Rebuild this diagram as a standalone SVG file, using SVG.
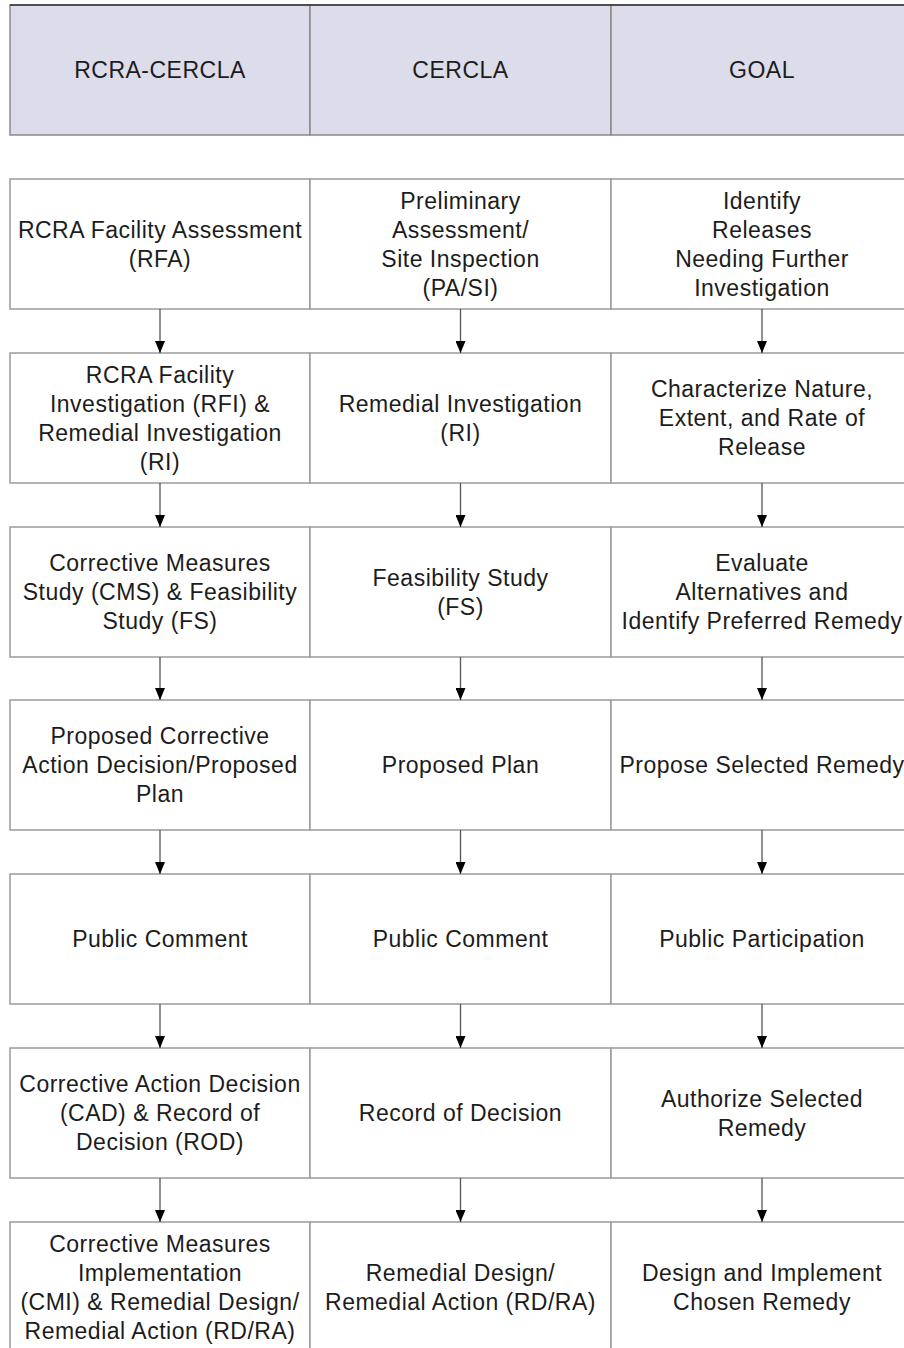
<svg xmlns="http://www.w3.org/2000/svg" width="904" height="1348" viewBox="0 0 904 1348">
<style>
.bg{fill:#ffffff}
.hdr{fill:#dcdcea;stroke:#8a8a8a;stroke-width:1.5}
.cell{fill:#ffffff;stroke:#9a9a9a;stroke-width:1.5}
.t{font-family:"Liberation Sans",Arial,sans-serif;font-size:23px;fill:#1c1c1c;text-anchor:middle;letter-spacing:0.5px}
.arr{stroke:#555555;stroke-width:1.3;fill:none}
.topline{stroke:#333333;stroke-width:1.5}
</style>
<defs>
<marker id="ah" viewBox="0 0 12 10" refX="12" refY="5" markerWidth="12" markerHeight="10" markerUnits="userSpaceOnUse" orient="auto">
<path d="M0,0 L12,5 L0,10 z" fill="#000000"/>
</marker>
</defs>
<rect class="bg" x="0" y="0" width="904" height="1348"/>

<g id="header">
<g id="h1"><rect class="hdr" x="10" y="5" width="300" height="130"/><text class="t" x="160" y="78">RCRA-CERCLA</text></g>
<g id="h2"><rect class="hdr" x="310" y="5" width="301" height="130"/><text class="t" x="460.5" y="78">CERCLA</text></g>
<g id="h3"><rect class="hdr" x="611" y="5" width="301" height="130"/><text class="t" x="762" y="78">GOAL</text></g>
<line class="topline" x1="10" y1="5" x2="904" y2="5"/>
</g>

<g id="r0c1"><rect class="cell" x="10" y="179" width="300" height="130"/><text class="t"><tspan x="160" y="237.5">RCRA Facility Assessment</tspan><tspan x="160" y="266.5">(RFA)</tspan></text></g>
<g id="r0c2"><rect class="cell" x="310" y="179" width="301" height="130"/><text class="t"><tspan x="460.5" y="208.5">Preliminary</tspan><tspan x="460.5" y="237.5">Assessment/</tspan><tspan x="460.5" y="266.5">Site Inspection</tspan><tspan x="460.5" y="295.5">(PA/SI)</tspan></text></g>
<g id="r0c3"><rect class="cell" x="611" y="179" width="301" height="130"/><text class="t"><tspan x="762" y="208.5">Identify</tspan><tspan x="762" y="237.5">Releases</tspan><tspan x="762" y="266.5">Needing Further</tspan><tspan x="762" y="295.5">Investigation</tspan></text></g>

<g id="r1c1"><rect class="cell" x="10" y="353" width="300" height="130"/><text class="t"><tspan x="160" y="382.5">RCRA Facility</tspan><tspan x="160" y="411.5">Investigation (RFI) &amp;</tspan><tspan x="160" y="440.5">Remedial Investigation</tspan><tspan x="160" y="469.5">(RI)</tspan></text></g>
<g id="r1c2"><rect class="cell" x="310" y="353" width="301" height="130"/><text class="t"><tspan x="460.5" y="411.5">Remedial Investigation</tspan><tspan x="460.5" y="440.5">(RI)</tspan></text></g>
<g id="r1c3"><rect class="cell" x="611" y="353" width="301" height="130"/><text class="t"><tspan x="762" y="397">Characterize Nature,</tspan><tspan x="762" y="426">Extent, and Rate of</tspan><tspan x="762" y="455">Release</tspan></text></g>

<g id="r2c1"><rect class="cell" x="10" y="527" width="300" height="130"/><text class="t"><tspan x="160" y="571">Corrective Measures</tspan><tspan x="160" y="600">Study (CMS) &amp; Feasibility</tspan><tspan x="160" y="629">Study (FS)</tspan></text></g>
<g id="r2c2"><rect class="cell" x="310" y="527" width="301" height="130"/><text class="t"><tspan x="460.5" y="585.5">Feasibility Study</tspan><tspan x="460.5" y="614.5">(FS)</tspan></text></g>
<g id="r2c3"><rect class="cell" x="611" y="527" width="301" height="130"/><text class="t"><tspan x="762" y="571">Evaluate</tspan><tspan x="762" y="600">Alternatives and</tspan><tspan x="762" y="629">Identify Preferred Remedy</tspan></text></g>

<g id="r3c1"><rect class="cell" x="10" y="700" width="300" height="130"/><text class="t"><tspan x="160" y="744">Proposed Corrective</tspan><tspan x="160" y="773">Action Decision/Proposed</tspan><tspan x="160" y="802">Plan</tspan></text></g>
<g id="r3c2"><rect class="cell" x="310" y="700" width="301" height="130"/><text class="t" x="460.5" y="773">Proposed Plan</text></g>
<g id="r3c3"><rect class="cell" x="611" y="700" width="301" height="130"/><text class="t" x="762" y="773">Propose Selected Remedy</text></g>

<g id="r4c1"><rect class="cell" x="10" y="874" width="300" height="130"/><text class="t" x="160" y="947">Public Comment</text></g>
<g id="r4c2"><rect class="cell" x="310" y="874" width="301" height="130"/><text class="t" x="460.5" y="947">Public Comment</text></g>
<g id="r4c3"><rect class="cell" x="611" y="874" width="301" height="130"/><text class="t" x="762" y="947">Public Participation</text></g>

<g id="r5c1"><rect class="cell" x="10" y="1048" width="300" height="130"/><text class="t"><tspan x="160" y="1092">Corrective Action Decision</tspan><tspan x="160" y="1121">(CAD) &amp; Record of</tspan><tspan x="160" y="1150">Decision (ROD)</tspan></text></g>
<g id="r5c2"><rect class="cell" x="310" y="1048" width="301" height="130"/><text class="t" x="460.5" y="1121">Record of Decision</text></g>
<g id="r5c3"><rect class="cell" x="611" y="1048" width="301" height="130"/><text class="t"><tspan x="762" y="1106.5">Authorize Selected</tspan><tspan x="762" y="1135.5">Remedy</tspan></text></g>

<g id="r6c1"><rect class="cell" x="10" y="1222" width="300" height="140"/><text class="t"><tspan x="160" y="1251.5">Corrective Measures</tspan><tspan x="160" y="1280.5">Implementation</tspan><tspan x="160" y="1309.5">(CMI) &amp; Remedial Design/</tspan><tspan x="160" y="1338.5">Remedial Action (RD/RA)</tspan></text></g>
<g id="r6c2"><rect class="cell" x="310" y="1222" width="301" height="140"/><text class="t"><tspan x="460.5" y="1280.5">Remedial Design/</tspan><tspan x="460.5" y="1309.5">Remedial Action (RD/RA)</tspan></text></g>
<g id="r6c3"><rect class="cell" x="611" y="1222" width="301" height="140"/><text class="t"><tspan x="762" y="1280.5">Design and Implement</tspan><tspan x="762" y="1309.5">Chosen Remedy</tspan></text></g>

<g id="connectors">
<line class="arr" x1="160" y1="309" x2="160" y2="353" marker-end="url(#ah)"/>
<line class="arr" x1="460.5" y1="309" x2="460.5" y2="353" marker-end="url(#ah)"/>
<line class="arr" x1="762" y1="309" x2="762" y2="353" marker-end="url(#ah)"/>
<line class="arr" x1="160" y1="483" x2="160" y2="527" marker-end="url(#ah)"/>
<line class="arr" x1="460.5" y1="483" x2="460.5" y2="527" marker-end="url(#ah)"/>
<line class="arr" x1="762" y1="483" x2="762" y2="527" marker-end="url(#ah)"/>
<line class="arr" x1="160" y1="657" x2="160" y2="700" marker-end="url(#ah)"/>
<line class="arr" x1="460.5" y1="657" x2="460.5" y2="700" marker-end="url(#ah)"/>
<line class="arr" x1="762" y1="657" x2="762" y2="700" marker-end="url(#ah)"/>
<line class="arr" x1="160" y1="830" x2="160" y2="874" marker-end="url(#ah)"/>
<line class="arr" x1="460.5" y1="830" x2="460.5" y2="874" marker-end="url(#ah)"/>
<line class="arr" x1="762" y1="830" x2="762" y2="874" marker-end="url(#ah)"/>
<line class="arr" x1="160" y1="1004" x2="160" y2="1048" marker-end="url(#ah)"/>
<line class="arr" x1="460.5" y1="1004" x2="460.5" y2="1048" marker-end="url(#ah)"/>
<line class="arr" x1="762" y1="1004" x2="762" y2="1048" marker-end="url(#ah)"/>
<line class="arr" x1="160" y1="1178" x2="160" y2="1222" marker-end="url(#ah)"/>
<line class="arr" x1="460.5" y1="1178" x2="460.5" y2="1222" marker-end="url(#ah)"/>
<line class="arr" x1="762" y1="1178" x2="762" y2="1222" marker-end="url(#ah)"/>
</g>
</svg>
